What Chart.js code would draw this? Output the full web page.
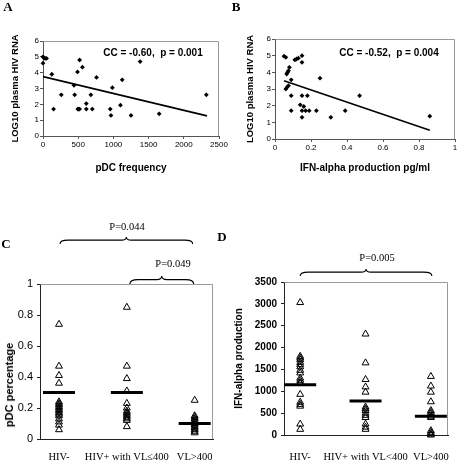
<!DOCTYPE html>
<html><head><meta charset="utf-8">
<script src="https://cdn.jsdelivr.net/npm/chart.js@4.4.0/dist/chart.umd.min.js"></script>
<style>
html,body{margin:0;padding:0;background:#fff;}
#wrap{position:relative;width:467px;height:464px;overflow:hidden;background:#fff;}
canvas{position:absolute;}
.t{position:absolute;white-space:nowrap;color:#000;line-height:1;transform:translate(-50%,-50%);}
.lt{font:bold 13px "Liberation Serif";}
.pv{font:10.5px "Liberation Serif";}
.cc{font:bold 10px "Liberation Sans";}
.yt{font:bold 11px "Liberation Sans";transform:translate(-50%,-50%) rotate(-90deg);}
</style></head><body><div id="wrap">
<canvas id="cA" width="233" height="200" style="left:0;top:0"></canvas>
<canvas id="cB" width="234" height="200" style="left:233px;top:0"></canvas>
<canvas id="cC" width="233" height="254" style="left:0;top:210px"></canvas>
<canvas id="cD" width="234" height="254" style="left:233px;top:210px"></canvas>
<div class="t lt" style="left:8px;top:7px">A</div>
<div class="t lt" style="left:236px;top:7px">B</div>
<div class="t lt" style="left:6px;top:244px">C</div>
<div class="t lt" style="left:222px;top:237px">D</div>
<div class="t cc" style="left:153px;top:52px">CC = -0.60,&nbsp; p = 0.001</div>
<div class="t cc" style="left:389px;top:52px">CC = -0.52,&nbsp; p = 0.004</div>
<div class="t pv" style="left:127px;top:226px">P=0.044</div>
<div class="t pv" style="left:173px;top:263px">P=0.049</div>
<div class="t pv" style="left:377px;top:257px">P=0.005</div>
<div class="t yt" style="left:9px;top:385px">pDC percentage</div>
</div>
<script>
// ---- Panel A data ----
const pdcFreqA = [0, 10, 30, 50, 0, 125, 150, 260, 440, 450, 490, 520, 495, 505, 520, 560, 615, 615, 680, 700, 760, 955, 965, 985, 1100, 1125, 1250, 1380, 1650, 2320];
const rnaA     = [5.0, 4.95, 4.9, 4.9, 4.6, 3.9, 1.7, 2.6, 3.2, 2.6, 4.05, 4.8, 1.7, 1.7, 1.7, 4.35, 2.05, 1.7, 2.6, 1.7, 3.7, 1.7, 1.3, 3.05, 1.95, 3.55, 1.3, 4.7, 1.4, 2.6];
const fitA_x = [0, 2330];
const fitA_y = [3.75, 1.27];
const ticksA_x = [0, 500, 1000, 1500, 2000, 2500];
const ticksA_y = [0, 1, 2, 3, 4, 5, 6];

// ---- Panel B data ----
const ifnB = [0.05, 0.06, 0.065, 0.07, 0.075, 0.08, 0.06, 0.067, 0.075, 0.09, 0.09, 0.09, 0.11, 0.12, 0.13, 0.15, 0.15, 0.14, 0.15, 0.15, 0.15, 0.16, 0.17, 0.18, 0.19, 0.23, 0.25, 0.31, 0.39, 0.47, 0.86];
const rnaB = [4.97, 4.9, 3.9, 4.0, 4.1, 4.3, 3.0, 3.1, 3.2, 3.55, 2.6, 1.7, 4.75, 4.8, 4.85, 5.0, 4.6, 2.05, 2.6, 1.7, 1.3, 1.95, 1.7, 2.6, 1.7, 1.7, 3.65, 1.3, 1.7, 2.6, 1.37];
const fitB_x = [0.05, 0.86];
const fitB_y = [3.5, 0.52];
const ticksB_x = [0, 0.2, 0.4, 0.6, 0.8, 1];
const ticksB_y = [0, 1, 2, 3, 4, 5, 6];

// ---- Panel C data ----
const groupsC = ['HIV-', 'HIV+ with VL\u2264400', 'VL>400'];
const pdcHivNeg = [0.74, 0.47, 0.41, 0.36, 0.24, 0.23, 0.22, 0.21, 0.20, 0.19, 0.18, 0.17, 0.16, 0.15, 0.13, 0.11, 0.09, 0.06];
const pdcVlLow  = [0.85, 0.47, 0.39, 0.31, 0.23, 0.20, 0.18, 0.17, 0.16, 0.15, 0.14, 0.13, 0.12, 0.08];
const pdcVlHigh = [0.25, 0.15, 0.14, 0.13, 0.12, 0.11, 0.10, 0.09, 0.08, 0.07, 0.06, 0.05, 0.04];
const medianC = [0.30, 0.30, 0.10];
const ticksC_y = [0, 0.2, 0.4, 0.6, 0.8, 1];

// ---- Panel D data ----
const groupsD = ['HIV-', 'HIV+ with VL<400', 'VL>400'];
const ifnHivNeg = [3030, 1800, 1760, 1720, 1660, 1610, 1560, 1480, 1420, 1300, 1250, 1200, 1180, 930, 750, 700, 660, 250, 130];
const ifnVlLow  = [2310, 1650, 1270, 1100, 980, 640, 600, 560, 500, 450, 400, 250, 180, 130];
const ifnVlHigh = [1340, 1120, 980, 760, 560, 520, 480, 430, 400, 100, 60, 20, 0];
const medianD = [1150, 780, 430];
const ticksD_y = [0, 500, 1000, 1500, 2000, 2500, 3000, 3500];

const SANS = 'Liberation Sans', SERIF = 'Liberation Serif';
const plain = v => String(v);

const framePlugin = {
  id: 'frame',
  beforeDatasetsDraw(chart, args, opts) {
    const a = chart.chartArea, ctx = chart.ctx;
    ctx.save();
    ctx.strokeStyle = opts.color || '#999';
    ctx.lineWidth = 1;
    ctx.beginPath();
    ctx.moveTo(Math.round(a.left) + 0.5, Math.round(a.top) + 0.5);
    ctx.lineTo(Math.round(a.right) - 0.5, Math.round(a.top) + 0.5);
    ctx.lineTo(Math.round(a.right) - 0.5, Math.round(a.bottom));
    ctx.stroke();
    ctx.restore();
  }
};

const bracePlugin = {
  id: 'braces',
  afterDraw(chart, args, opts) {
    const ctx = chart.ctx, xs = chart.scales.x, top = chart.chartArea.top;
    (opts.items || []).forEach(b => {
      const x0 = xs.getPixelForValue(b.from) + (b.dx0 || 0);
      const x1 = xs.getPixelForValue(b.to) + (b.dx1 || 0);
      const yb = top + b.offset, h = b.h, xm = (x0 + x1) / 2, ym = yb - h * 0.55;
      ctx.save();
      ctx.strokeStyle = '#000';
      ctx.lineWidth = 1.1;
      ctx.beginPath();
      ctx.moveTo(x0, yb);
      ctx.quadraticCurveTo(x0, ym, x0 + 8, ym);
      ctx.lineTo(xm - 5, ym);
      ctx.quadraticCurveTo(xm, ym, xm, yb - h);
      ctx.quadraticCurveTo(xm, ym, xm + 5, ym);
      ctx.lineTo(x1 - 8, ym);
      ctx.quadraticCurveTo(x1, ym, x1, yb);
      ctx.stroke();
      ctx.restore();
    });
  }
};

function setTicks(arr) { return s => { s.ticks = arr.map(v => ({ value: v })); }; }

function scatterPanel(id, xs, ys, fx, fy, tx, ty, xmin, xmax, xTitle, L) {
  return new Chart(document.getElementById(id), {
    type: 'scatter',
    data: { datasets: [
      { data: xs.map((x, i) => ({ x, y: ys[i] })), pointStyle: 'rectRot', pointRadius: 2.4,
        backgroundColor: '#000', borderColor: '#000', borderWidth: 0, clip: false },
      { type: 'line', data: fx.map((x, i) => ({ x, y: fy[i] })), showLine: true, borderColor: '#000',
        borderWidth: 1.6, pointRadius: 0, fill: false }
    ]},
    plugins: [framePlugin],
    options: {
      responsive: false, animation: false, devicePixelRatio: 1,
      layout: { padding: { left: 0, top: L.top, right: L.right, bottom: 0 } },
      plugins: { legend: { display: false }, tooltip: { enabled: false }, frame: { color: '#9a9a9a' } },
      scales: {
        x: { type: 'linear', min: xmin, max: xmax, afterBuildTicks: setTicks(tx),
             afterFit: s => { s.height = L.xh; },
             grid: { drawOnChartArea: false, drawTicks: true, tickLength: 3, color: '#555' },
             border: { color: '#555', width: 1 },
             ticks: { font: { family: SANS, size: 8 }, color: '#000', padding: 1, maxRotation: 0, autoSkip: false, callback: plain },
             title: { display: true, text: xTitle, color: '#000', font: { family: SANS, size: 10, weight: 'bold' },
                      padding: { top: 0, bottom: 26 } } },
        y: { type: 'linear', min: 0, max: 6, afterBuildTicks: setTicks(ty),
             afterFit: s => { s.width = L.yw; },
             grid: { drawOnChartArea: false, drawTicks: true, tickLength: 3, color: '#555' },
             border: { color: '#555', width: 1 },
             ticks: { font: { family: SANS, size: 8 }, color: '#000', padding: 1, callback: plain },
             title: { display: true, text: 'LOG10 plasma HIV RNA', color: '#000',
                      font: { family: SANS, size: 9.5, weight: 'bold' }, padding: { top: L.ytp, bottom: 0 } } }
      }
    }
  });
}

scatterPanel('cA', pdcFreqA, rnaA, fitA_x, fitA_y, ticksA_x, ticksA_y, 0, 2500, 'pDC frequency',
  { top: 41, right: 14, xh: 64, yw: 43, ytp: 9.3 });
scatterPanel('cB', ifnB, rnaB, fitB_x, fitB_y, ticksB_x, ticksB_y, 0, 1, 'IFN-alpha production pg/ml',
  { top: 39, right: 12, xh: 61, yw: 42, ytp: 12 });

function groupPanel(id, groups, vals, medians, ty, ymax, xmin, xmax, yTitle, L, braces) {
  const ds = [];
  vals.forEach((arr, g) => {
    ds.push({ data: arr.map(v => ({ x: g, y: v })), pointStyle: 'triangle', pointRadius: 4,
      backgroundColor: 'rgba(0,0,0,0)', borderColor: '#000', borderWidth: 1, clip: false });
  });
  ds.push({ data: medians.map((v, g) => ({ x: g, y: v })), pointStyle: 'line', pointRadius: 16,
    borderColor: '#000', borderWidth: 3, clip: false });
  return new Chart(document.getElementById(id), {
    type: 'scatter',
    data: { datasets: ds },
    plugins: [framePlugin, bracePlugin],
    options: {
      responsive: false, animation: false, devicePixelRatio: 1,
      layout: { padding: { left: 0, top: L.top, right: L.right, bottom: 0 } },
      plugins: { legend: { display: false }, tooltip: { enabled: false }, frame: { color: '#9a9a9a' },
                 braces: { items: braces } },
      scales: {
        x: { type: 'linear', min: xmin, max: xmax, afterBuildTicks: setTicks([0, 1, 2]),
             afterFit: s => { s.height = L.xh; },
             grid: { drawOnChartArea: false, drawTicks: false },
             border: { color: '#222', width: 1 },
             ticks: { font: { family: SERIF, size: 10.5 }, color: '#000', padding: L.xpad, maxRotation: 0,
                      autoSkip: false, callback: v => groups[v] } },
        y: { type: 'linear', min: 0, max: ymax, afterBuildTicks: setTicks(ty),
             afterFit: s => { s.width = L.yw; },
             grid: { drawOnChartArea: false, drawTicks: true, tickLength: 3, color: '#222' },
             border: { color: '#222', width: 1 },
             ticks: { font: { family: SANS, size: L.yfs, weight: L.yfw }, color: '#000', padding: 4, callback: plain },
             title: { display: !!yTitle, text: yTitle || '', color: '#000',
                      font: { family: SANS, size: 10, weight: 'bold' }, padding: { top: 0, bottom: 0 } } }
      }
    }
  });
}

groupPanel('cC', groupsC, [pdcHivNeg, pdcVlLow, pdcVlHigh], medianC, ticksC_y, 1, -0.28, 2.27, null,
  { top: 74, right: 20, xh: 25, yw: 40, xpad: 12, yfs: 11, yfw: 'normal' },
  [ { from: 0, to: 2, offset: -40, h: 7, dx0: 1, dx1: -2 },
    { from: 1, to: 2, offset: 0, h: 8, dx0: 3, dx1: -1 } ]);
groupPanel('cD', groupsD, [ifnHivNeg, ifnVlLow, ifnVlHigh], medianD, ticksD_y, 3500, -0.248, 2.262, 'IFN-alpha production',
  { top: 72, right: 4, xh: 29, yw: 51, xpad: 16, yfs: 10, yfw: 'bold' },
  [ { from: 0, to: 2, offset: -6, h: 7, dx0: 0, dx1: 1 } ]);
</script>
</body></html>
